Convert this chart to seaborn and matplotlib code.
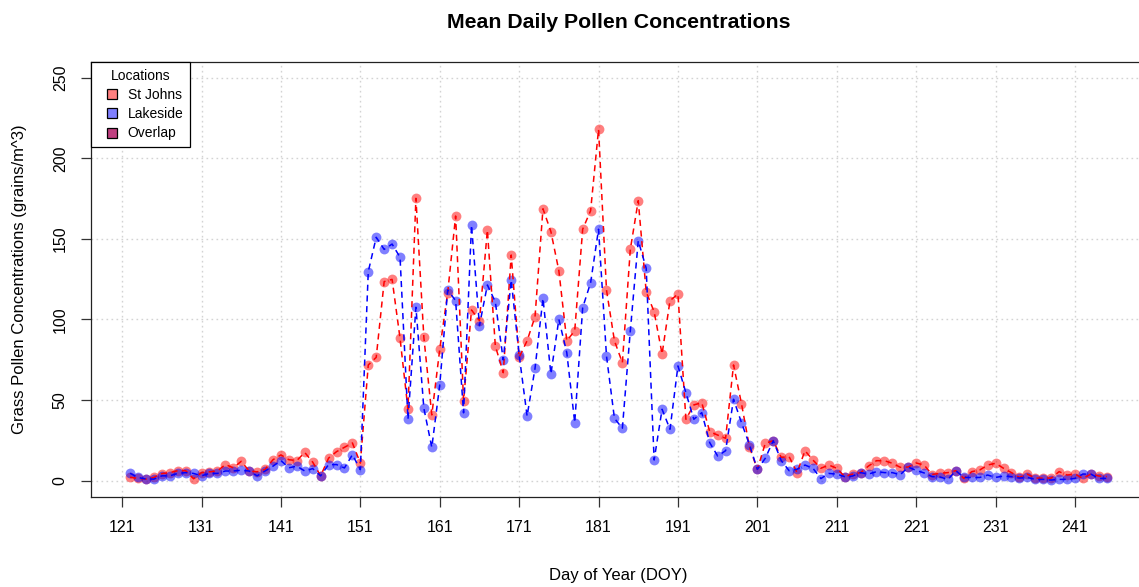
import numpy as np
import pandas as pd
import matplotlib
matplotlib.use("Agg")
import matplotlib.pyplot as plt
from matplotlib.lines import Line2D
import seaborn as sns

# day of year, 122..245
days = list(range(122, 246))

st_johns = [
    2.1, 1.4, 1.0, 2.0, 4.4, 5.0, 6.2, 6.2, 1.2, 5.0,
    5.5, 6.0, 10.0, 8.0, 12.0, 6.0, 5.5, 7.0, 13.0, 16.0,
    13.0, 12.5, 17.5, 11.5, 3.0, 14.0, 18.0, 20.7, 23.4, 10.9,
    71.8, 76.5, 123.5, 124.9, 88.3, 44.3, 175.2, 88.9, 40.8, 81.5,
    116.6, 164.2, 49.6, 105.9, 99.3, 155.5, 83.6, 67.0, 140.0, 76.5,
    86.8, 101.7, 168.7, 154.5, 130.3, 86.8, 93.0, 156.0, 167.5, 218.0,
    118.3, 86.8, 73.2, 143.5, 173.7, 117.2, 104.8, 78.6, 111.7, 115.8,
    38.1, 47.0, 48.4, 30.4, 28.3, 26.3, 71.8, 47.8, 21.0, 7.0,
    23.2, 24.8, 14.5, 14.9, 5.0, 18.6, 12.8, 7.7, 9.7, 7.7,
    2.5, 4.1, 5.0, 9.1, 12.4, 12.4, 10.8, 8.3, 8.5, 11.0,
    9.7, 3.8, 4.6, 5.0, 6.2, 1.4, 5.6, 6.6, 9.7, 10.8,
    7.7, 5.0, 2.0, 4.1, 1.6, 1.6, 1.6, 5.6, 3.5, 4.1,
    1.4, 4.1, 2.9, 2.5,
]

lakeside = [
    4.6, 2.0, 1.0, 1.0, 3.0, 3.0, 4.5, 5.0, 4.5, 3.0,
    4.5, 4.5, 6.0, 6.0, 6.5, 6.0, 3.0, 6.0, 9.0, 12.5,
    8.0, 9.0, 6.0, 7.5, 3.0, 10.0, 10.0, 7.9, 16.1, 6.8,
    129.7, 151.0, 143.5, 146.8, 138.6, 38.1, 107.6, 44.9, 20.7, 59.4,
    118.3, 111.7, 42.1, 158.6, 96.2, 121.4, 110.9, 74.9, 124.5, 78.0,
    40.1, 69.7, 113.1, 66.2, 100.1, 79.4, 36.0, 107.3, 122.8, 156.0,
    77.4, 38.7, 32.5, 93.0, 148.9, 131.8, 12.8, 44.3, 31.9, 71.2,
    54.6, 38.1, 42.2, 23.6, 15.3, 18.6, 50.5, 36.0, 22.4, 7.0,
    13.9, 24.8, 12.5, 6.2, 7.1, 9.7, 7.7, 1.3, 4.5, 4.1,
    2.5, 2.9, 5.0, 4.1, 5.6, 5.0, 5.0, 3.7, 8.4, 6.4,
    4.8, 2.5, 2.3, 0.8, 6.2, 2.0, 2.0, 2.0, 3.5, 2.0,
    2.9, 2.5, 1.6, 2.0, 0.8, 0.8, 0.4, 0.8, 0.8, 1.4,
    4.1, 4.1, 1.4, 1.4,
]

locations = ["St Johns", "Lakeside", "Overlap"]
legend_colors = ["#FF8080", "#8080FF", "#BF4080"]
x_ticks = list(range(121, 242, 10))
y_ticks = [0, 50, 100, 150, 200, 250]

df = pd.DataFrame({"doy": days, "St Johns": st_johns, "Lakeside": lakeside})

sns.set_style("ticks")
plt.rcParams["font.family"] = ["Liberation Sans", "DejaVu Sans"]
plt.rcParams["text.color"] = "black"

W, H = 1139, 587
fig = plt.figure(figsize=(W / 100, H / 100), dpi=100)
ax = fig.add_axes([91 / W, 1 - 496.8 / H, 1054.8 / W, 435.2 / H])

ax.grid(True, color="#D3D3D3", linestyle=(0, (1.2, 2.4)), linewidth=1.0)
ax.set_axisbelow(True)

sns.lineplot(data=df, x="doy", y="St Johns", ax=ax, color="red",
             linewidth=1.1, linestyle=(0, (4, 3)))
sns.scatterplot(data=df, x="doy", y="St Johns", ax=ax, color="red",
                alpha=0.5, s=50, linewidth=0)
sns.lineplot(data=df, x="doy", y="Lakeside", ax=ax, color="blue",
             linewidth=1.1, linestyle=(0, (4, 3)))
sns.scatterplot(data=df, x="doy", y="Lakeside", ax=ax, color="blue",
                alpha=0.5, s=50, linewidth=0)

ax.set_xlim(117.08, 249.92)
ax.set_ylim(-10, 260)
ax.set_xticks(x_ticks)
ax.set_yticks(y_ticks)

for sp in ax.spines.values():
    sp.set_visible(True)
    sp.set_color("#222222")
    sp.set_linewidth(0.9)

ax.tick_params(axis="both", length=7.2, width=0.9, color="#333333",
               labelsize=11.5, labelcolor="black", pad=9.5)
ax.tick_params(axis="y", labelrotation=90)
for lab in ax.get_yticklabels():
    lab.set_va("center")

ax.set_title("Mean Daily Pollen Concentrations", fontsize=15.3,
             fontweight="bold", pad=24, color="black")
ax.set_xlabel("Day of Year (DOY)", fontsize=12, color="black")
ax.set_ylabel("Grass Pollen Concentrations (grains/m^3)", fontsize=12,
              color="black")
ax.xaxis.set_label_coords(0.5, -0.163)
ax.yaxis.set_label_coords(-0.061, 0.5)

handles = [Line2D([], [], linestyle="none", marker="s", markersize=7.4,
                  markerfacecolor=c, markeredgecolor="black",
                  markeredgewidth=0.9)
           for c in legend_colors]
leg = ax.legend(handles, locations, title="Locations", loc="upper left",
                bbox_to_anchor=(0, 1), borderaxespad=0, fontsize=10,
                title_fontsize=10, fancybox=False, framealpha=1,
                edgecolor="black", handlelength=1.98, handletextpad=0.16,
                labelspacing=0.38, borderpad=0.5)
leg.get_frame().set_linewidth(0.9)

fig.savefig("out.png", dpi=100)
